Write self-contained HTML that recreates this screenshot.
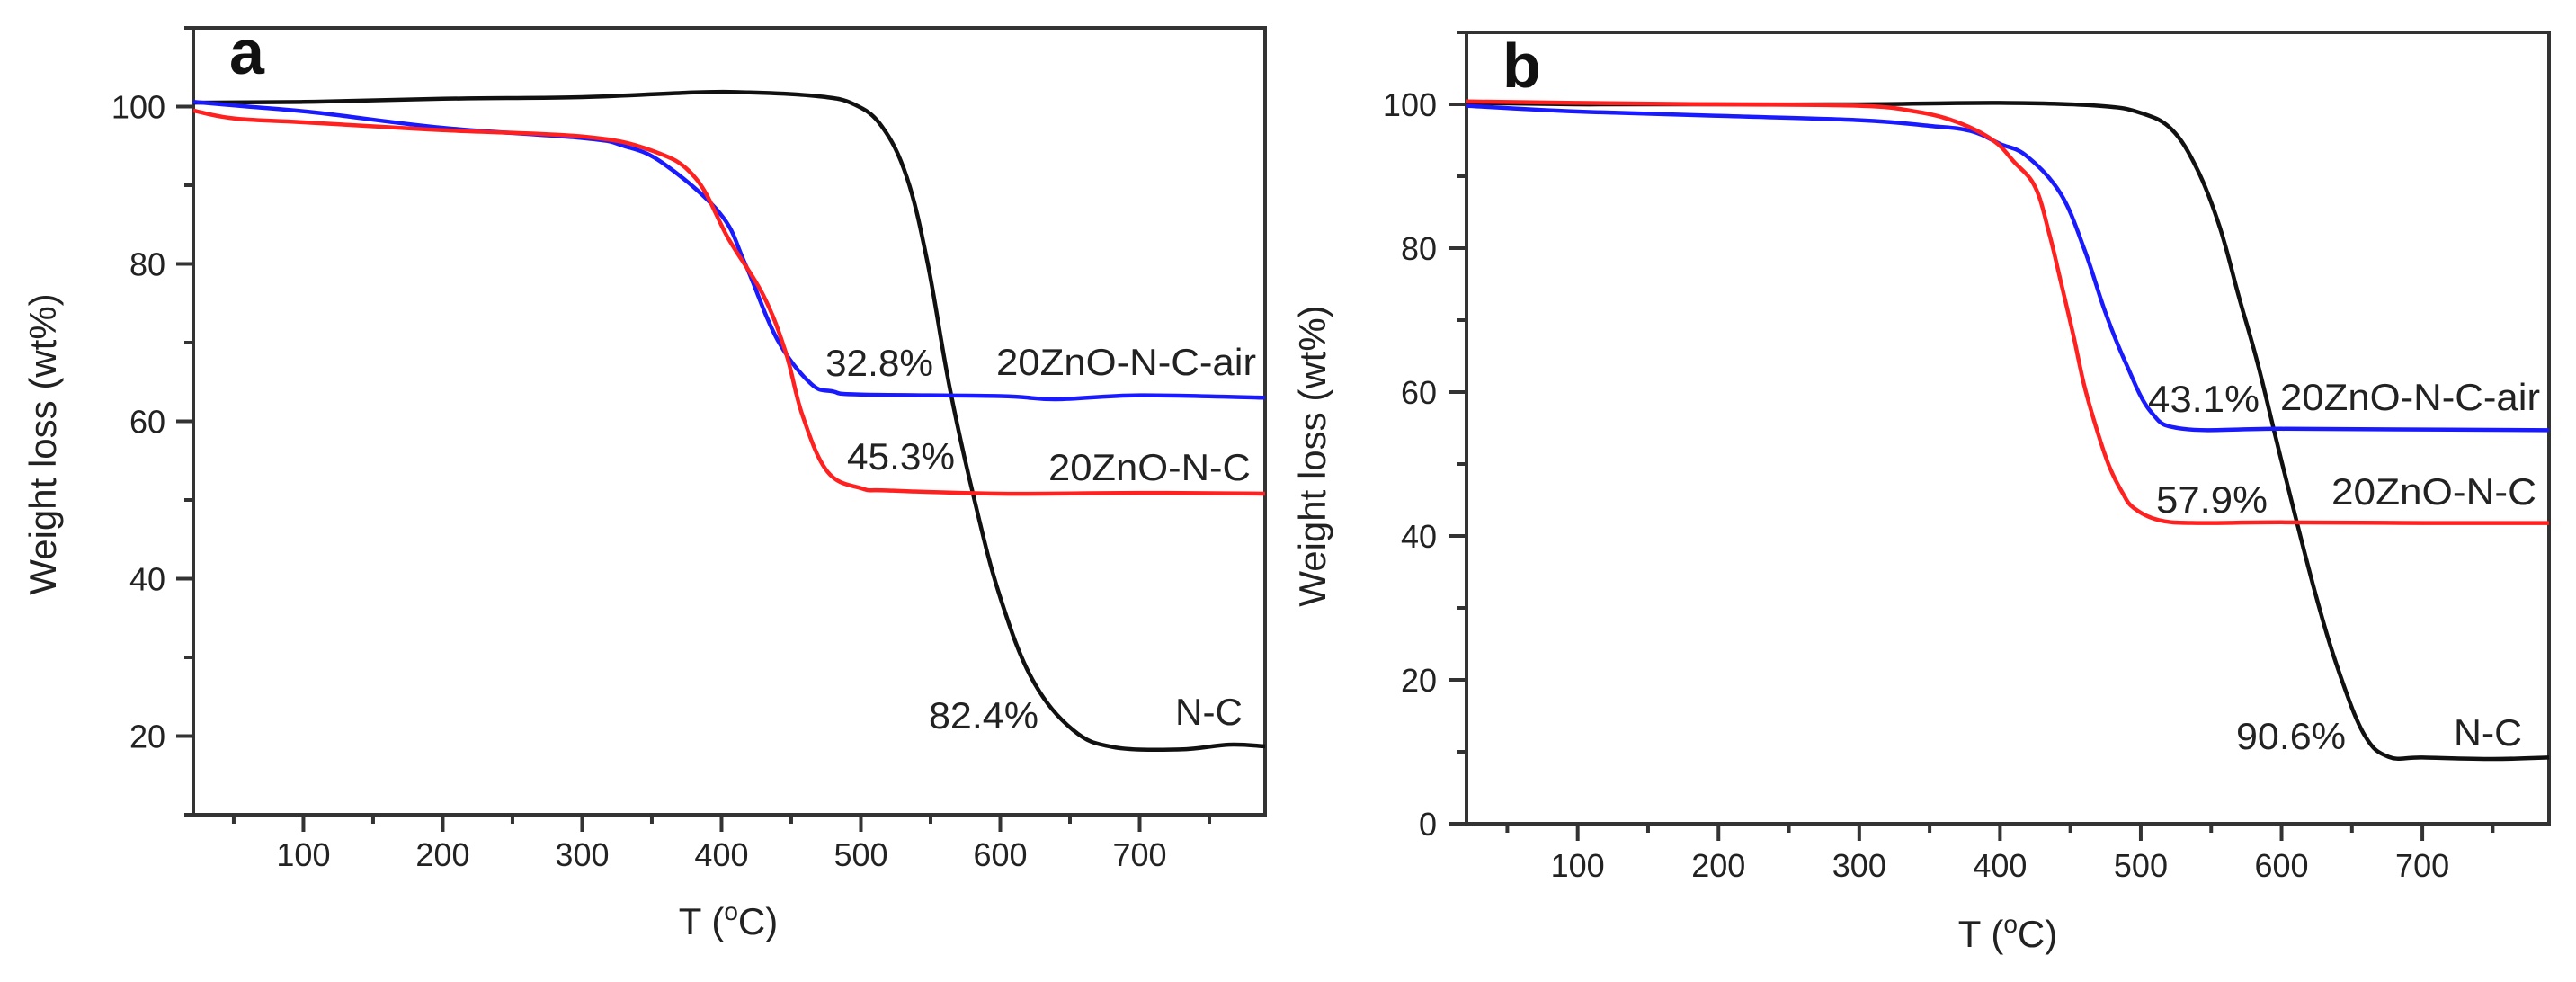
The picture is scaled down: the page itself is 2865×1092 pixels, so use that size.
<!DOCTYPE html>
<html><head><meta charset="utf-8"><style>
html,body{margin:0;padding:0;background:#fff;}
svg{display:block;font-family:"Liberation Sans",sans-serif;}
</style></head><body>
<svg id="fig" width="2865" height="1092" viewBox="0 0 2865 1092"></svg>
<script>
// ---- data ----
const aBlackT = [21,100,200,300,380,420,470,495,515,533,548,564,582,600,623,652,681,729,764,790];
const aBlackW = [100.5,100.6,101,101.2,101.8,101.8,101.3,100.3,97.5,91,80,64,49.6,37.6,27.2,20.8,18.6,18.3,18.9,18.7];
const aBlueT = [21,60,111,200,300,330,358,399,417,440,464,480,500,600,640,700,790];
const aBlueW = [100.6,100,99.2,97.3,96,95,92.8,86.4,80,70.4,64.8,63.8,63.4,63.2,62.8,63.3,63];
const aRedT = [21,50,100,200,300,350,381,405,430,446,458,476,500,520,600,700,790];
const aRedW = [99.5,98.5,98,97,96.2,94.4,91,83.2,76,68.8,60.8,53.6,51.5,51.2,50.8,50.9,50.8];
const bBlackT = [21,100,200,300,400,470,500,522,540,556,570,583,600,624,641,659,676,700,750,790];
const bBlackW = [100.2,100,100,100,100.2,99.8,98.8,96.5,91,83,73,64,50.4,32,21,12.3,9.3,9.2,9,9.2];
const bBlueT = [21,100,200,300,350,379,400,419,443,460,475,489,507,530,600,700,790];
const bBlueW = [99.8,99,98.4,97.8,97,96.3,94.5,92.8,87.6,79.8,71,64.2,57.3,54.9,54.9,54.8,54.7];
const bRedT = [21,100,200,300,340,370,395,410,425,435,443,452,460,470,478,487,495,513,540,600,700,790];
const bRedW = [100.4,100.2,100,99.8,99,97.5,95,92,88.5,82,75.5,68,60.8,54,49.5,46,43.9,42.2,41.8,41.9,41.8,41.8];
const xTicks = [100,200,300,400,500,600,700];
const aYTicks = [20,40,60,80,100];
const bYTicks = [0,20,40,60,80,100];

const NS = "http://www.w3.org/2000/svg";
const svg = document.getElementById('fig');
function el(tag, attrs, parent){const e=document.createElementNS(NS,tag);for(const k in attrs)e.setAttribute(k,attrs[k]);(parent||svg).appendChild(e);return e;}

function smoothPath(pts){
  let d = 'M'+pts[0][0].toFixed(1)+','+pts[0][1].toFixed(1);
  for(let i=0;i<pts.length-1;i++){
    const p0=pts[Math.max(0,i-1)], p1=pts[i], p2=pts[i+1], p3=pts[Math.min(pts.length-1,i+2)];
    const t=0.18;
    const c1=[p1[0]+(p2[0]-p0[0])*t, p1[1]+(p2[1]-p0[1])*t];
    const c2=[p2[0]-(p3[0]-p1[0])*t, p2[1]-(p3[1]-p1[1])*t];
    d += ' C'+c1[0].toFixed(1)+','+c1[1].toFixed(1)+' '+c2[0].toFixed(1)+','+c2[1].toFixed(1)+' '+p2[0].toFixed(1)+','+p2[1].toFixed(1);
  }
  return d;
}

function panel(p){
  const g = el('g',{});
  
  
  const sx = t => p.L + (t - 21) / (790 - 21) * (p.R - p.L);
  const sy = w => p.B - (w - p.ymin) / (110 - p.ymin) * (p.B - p.T);
  const fr = el('rect',{x:p.L,y:p.T,width:p.R-p.L,height:p.B-p.T,fill:'none',stroke:'#333','stroke-width':4},g);
  
  
  for(let t=50;t<=790;t+=50){
    const major = t%100===0;
    const tk = el('line',{x1:sx(t),x2:sx(t),y1:p.B,y2:p.B+(major?19:10),stroke:'#333','stroke-width':4},g);
    
    
  }
  xTicks.forEach(t=>{
    const tx = el('text',{x:sx(t),y:p.xlabY,'font-size':36,'text-anchor':'middle',fill:'#222'},g);
    tx.textContent = t;
    
    
  });
  for(let w=p.ymin;w<=110;w+=10){
    const major = w%20===0;
    const tk = el('line',{x1:p.L,x2:p.L-(major?19:10),y1:sy(w),y2:sy(w),stroke:'#333','stroke-width':4},g);
    
    
  }
  p.yticks.forEach(w=>{
    const tx = el('text',{x:p.ylabX,y:sy(w)+13,'font-size':36,'text-anchor':'end',fill:'#222'},g);
    tx.textContent = w;
    
    
  });
  p.series.forEach(s=>{
    const pts = s.t.map((t,i)=>[sx(t), sy(s.w[i])]);
    const pa = el('path',{d:smoothPath(pts),fill:'none',stroke:s.c,'stroke-width':4.5,'stroke-linejoin':'round'},g);
    
    
  });
  p.labels.forEach(l=>{
    const tx = el('text',{x:l[1],y:l[2],'font-size':42,fill:'#222',textLength:l[3],lengthAdjust:'spacingAndGlyphs'},g);
    tx.textContent = l[0];
    
    
  });
  const letter = el('text',{x:p.L+40,y:p.letterY,'font-size':70,'font-weight':'bold',fill:'#111'},g);
  letter.textContent = p.id;
  
  
  const yt = el('text',{x:0,y:0,'font-size':42,'text-anchor':'middle',fill:'#222',transform:`translate(${p.ytX},${p.ytY}) rotate(-90)`},g);
  yt.textContent = 'Weight loss (wt%)';
  
  
  const xt = el('text',{x:p.xtX,y:p.xtY,'font-size':42,'text-anchor':'middle',fill:'#222'},g);
  xt.innerHTML = 'T (<tspan dy="-16" font-size="28">o</tspan><tspan dy="16">C)</tspan>';
  
  
}

panel({id:'a',L:215,R:1407,T:31,B:906,ymin:10,yticks:aYTicks,xlabY:963,ylabX:184,letterY:82,ytX:62,ytY:494,xtX:810,xtY:1039,
  series:[{name:'nc-curve',t:aBlackT,w:aBlackW,c:'#111'},{name:'znonc-air-curve',t:aBlueT,w:aBlueW,c:'#1a1aff'},{name:'znonc-curve',t:aRedT,w:aRedW,c:'#ff2020'}],
  labels:[['32.8%',918,418,120],['20ZnO-N-C-air',1108,417,289],['45.3%',942,522,120],['20ZnO-N-C',1166,534,225],['82.4%',1033,810,122],['N-C',1307,806,75]]});
panel({id:'b',L:1631,R:2835,T:36,B:916,ymin:0,yticks:bYTicks,xlabY:975,ylabX:1598,letterY:97,ytX:1474,ytY:507,xtX:2233,xtY:1053,
  series:[{name:'nc-curve',t:bBlackT,w:bBlackW,c:'#111'},{name:'znonc-air-curve',t:bBlueT,w:bBlueW,c:'#1a1aff'},{name:'znonc-curve',t:bRedT,w:bRedW,c:'#ff2020'}],
  labels:[['43.1%',2389,458,124],['20ZnO-N-C-air',2536,456,289],['57.9%',2398,570,124],['20ZnO-N-C',2593,561,228],['90.6%',2487,833,122],['N-C',2729,829,76]]});
</script>
</body></html>
